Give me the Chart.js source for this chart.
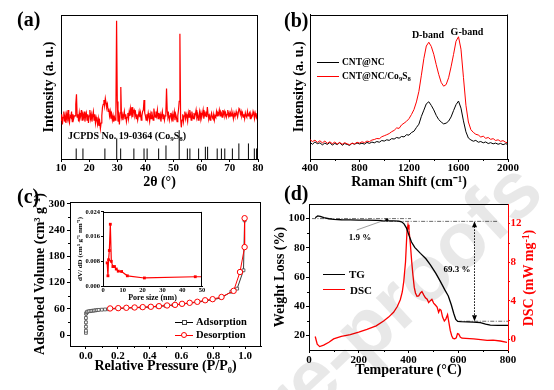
<!DOCTYPE html>
<html>
<head>
<meta charset="utf-8">
<script src="https://cdn.jsdelivr.net/npm/chart.js@4.4.1/dist/chart.umd.min.js"></script>
<style>
  html, body { margin: 0; padding: 0; background: #fff; }
  #page { position: relative; width: 554px; height: 390px; overflow: hidden;
          font-family: "Liberation Serif", "Times New Roman", serif; font-weight: bold; color: #000; }
  canvas { position: absolute; }
  .t { position: absolute; white-space: nowrap; line-height: 1; }
  .t sub { font-size: 70%; vertical-align: -0.3em; line-height: 0; }
  .t sup { font-size: 70%; vertical-align: 0.45em; line-height: 0; }
  .ln { position: absolute; height: 0; }
  .mk { position: absolute; box-sizing: border-box; background: #fff; }
  #wm { position: absolute; right: -6px; bottom: 180px; transform-origin: 100% 100%;
        transform: rotate(-43deg); font: bold 80px "Liberation Sans", Arial, sans-serif;
        color: rgba(0, 0, 0, 0.09); white-space: nowrap; pointer-events: none; z-index: 5; }
</style>
</head>
<body>
<div id="page">
  <canvas id="ca" width="277" height="192" style="left:0;top:0"></canvas>
  <canvas id="cb" width="277" height="192" style="left:277px;top:0"></canvas>
  <canvas id="cc" width="266" height="198" style="left:0;top:192px"></canvas>
  <canvas id="ci" width="135" height="104" style="left:72px;top:207px"></canvas>
  <canvas id="cd" width="288" height="198" style="left:266px;top:192px"></canvas>
  <div id="wm">Journal Pre-proofs</div>
</div>
<script>
// (a) XRD pattern, 10-80 deg every 0.25 deg
const xrdStart = 10;
const xrdStep = 0.25;
const xrdIntensity = [
  27,31,24,29, 33,26,30,25, 31,28,34,27, 25,30,29,33, 26,31,28,30,
  30,38,45,29, 31,26,32,28, 30,34,27,31, 29,33,26,30, 32,27,31,25,
  30,34,28,31, 26,30,33,27, 31,25,29,27, 24,28,23,26, 21,25,30,36,
  38,41,37,42, 39,36,38,33, 35,30,33,28, 31,27,30,26, 29,27,32,96,
  40,26,30,24, 32,50,29,31, 27,30,33,28, 31,26,29,32, 28,33,30,35,
  31,36,29,33, 34,30,32,28, 31,27,30,33, 29,32,27,30, 33,34,41,32,
  30,27,31,28, 32,29,26,31, 28,33,30,27, 35,31,29,33, 30,34,28,32,
  29,31,26,30, 33,28,31,27, 30,32,49,33, 29,31,27,30, 32,28,31,26,
  30,33,27,31, 29,26,30,34, 40,87,28,22, 27,31,26,30, 33,28,31,29,
  26,32,29,34, 31,27,33,30, 28,32,29,31, 34,29,31,27, 30,33,28,32,
  29,31,34,28, 32,30,33,29, 36,31,28,30, 27,30,32,29, 28,31,27,30,
  29,33,30,32, 31,34,30,33, 32,29,34,31, 33,30,32,29, 31,34,30,32,
  29,32,30,33, 31,28,32,30, 30,33,31,29, 32,35,34,31, 33,30,32,29,
  31,28,32,30, 29,33,30,31, 32,28,31,29, 30,33,31,28, 32,30,29,31,
  30
];
// JCPDS No. 19-0364 reference lines
const jcpdsPos = [15.4, 17.8, 25.6, 29.8, 31.2, 35.9, 39.5, 40.6, 44.7, 47.3, 52.0, 54.9,
                  55.8, 58.9, 61.3, 62.1, 65.5, 67.0, 68.2, 70.9, 73.2, 76.6, 78.7, 79.5];
const jcpdsHeight = [7.3, 7.3, 7.3, 14.3, 7.3, 7.3, 7.3, 7.3, 7.3, 9.4, 20, 7.3,
                     7.3, 7.3, 8.5, 8.5, 7.3, 7.3, 7.3, 7.3, 10.8, 10.8, 7.3, 7.3];
const xrdTicks = [10, 20, 30, 40, 50, 60, 70, 80];

// (b) Raman, 400-2000 cm-1 every 20
const ramanStart = 400;
const ramanStep = 20;
const ramanCNT = [
  11.5, 10.2, 11.8, 10.6, 11.2, 9.8, 11.0, 10.1, 11.4, 9.6,
  10.8, 10.0, 11.3, 9.5, 10.7, 10.1, 9.4, 10.9, 10.2, 11.1,
  10.4, 10.9, 10.3, 11.5, 10.8, 11.7, 11.2, 12.1, 11.6, 12.8,
  12.4, 13.3, 12.9, 14.1, 13.8, 14.9, 14.4, 15.6, 15.3, 16.8,
  16.5, 18.3, 19.2, 21.8, 24.1, 29.5, 33.8, 38.2, 39.6, 37.1,
  34.0, 30.2, 27.3, 25.6, 24.3, 24.8, 26.2, 29.1, 33.5, 37.6,
  40.1, 35.2, 26.4, 18.8, 14.5, 13.2, 12.3, 12.9, 11.6, 12.1,
  11.2, 11.8, 10.7, 11.3, 10.5, 11.0, 10.2, 10.8, 9.9, 10.6,
  10.1
];
const ramanCNTCo = [
  13.4, 12.1, 13.0, 11.5, 12.6, 11.2, 12.4, 10.8, 11.9, 10.6,
  11.7, 10.4, 11.5, 10.2, 11.3, 10.5, 9.9, 11.0, 10.4, 11.6,
  11.0, 11.9, 11.3, 12.4, 12.0, 13.1, 13.5, 14.2, 14.0, 15.4,
  16.1, 16.8, 17.6, 18.9, 19.8, 21.5, 21.2, 23.6, 24.8, 26.1,
  27.9, 30.8, 34.2, 39.5, 46.8, 58.0, 69.5, 78.2, 80.8, 77.9,
  72.5, 65.3, 58.6, 53.0, 50.4, 51.5, 56.2, 63.8, 72.4, 81.5,
  84.6, 76.0, 56.5, 37.2, 25.6, 20.3, 18.4, 17.1, 16.6, 15.2,
  15.8, 14.3, 14.9, 13.6, 14.1, 12.8, 13.3, 12.2, 12.7, 11.6,
  11.1
];
const ramanTicks = [400, 800, 1200, 1600, 2000];
const ramanMinor = [600, 1000, 1400, 1800];

// (c) N2 isotherm
const adsP = [0.0, 0.0, 0.0, 0.0, 0.0, 0.001, 0.005, 0.01, 0.02, 0.03, 0.04, 0.05, 0.06, 0.07,
              0.08, 0.1, 0.12, 0.14, 0.2, 0.25, 0.3, 0.35, 0.4, 0.45, 0.5, 0.55, 0.6, 0.65,
              0.7, 0.75, 0.8, 0.85, 0.914, 0.95, 0.99, 0.997];
const adsV = [5, 10, 19, 29, 39, 49, 52, 53.5, 54.5, 55, 55.5, 56, 56.5, 57,
              57.5, 58, 58.5, 59, 60.5, 61.5, 62.3, 63, 64, 65.3, 66.8, 68.5, 70.5, 72.8,
              75, 77.8, 81, 85, 99, 106, 148, 262];
const desP = [0.997, 0.997, 0.968, 0.928, 0.852, 0.796, 0.749, 0.700, 0.652, 0.604, 0.56,
              0.510, 0.459, 0.408, 0.357, 0.306, 0.254, 0.203, 0.152];
const desV = [267, 201, 144, 101, 87, 82, 79.5, 76, 73.7, 71.4, 69,
              67.6, 66, 64.6, 63.8, 63, 62.3, 61.5, 60.8];
const isoTicksX = [0, 0.2, 0.4, 0.6, 0.8, 1.0];
const isoMinorX = [0.1, 0.3, 0.5, 0.7, 0.9];
const isoTicksY = [0, 60, 120, 180, 240, 300];
const isoMinorY = [30, 90, 150, 210, 270];

// (c) inset pore size distribution
const poreSize = [2.1, 2.5, 2.8, 3.2, 3.7, 4.2, 5.0, 5.8, 6.7, 7.7, 9.4, 12.3, 20.9, 46.6];
const poreDV = [0.0075, 0.0033, 0.0085, 0.0115, 0.0200, 0.0080, 0.0063, 0.0063, 0.0055,
                0.0048, 0.0047, 0.0033, 0.0026, 0.0030];
const poreTicksX = [0, 10, 20, 30, 40, 50];
const poreTicksY = [0, 0.008, 0.016, 0.024];

// (d) TG / DSC
const tgT = [25, 35, 45, 60, 80, 100, 130, 166, 200, 233, 270, 300, 340, 360, 372, 382, 392, 402,
             412, 425, 448, 470, 488, 510, 528, 545, 560, 572, 582, 590, 598, 610, 635, 660, 689,
             710, 729, 760, 800];
const tgW = [100.6, 101.8, 101.5, 100.6, 99.9, 99.5, 99.2, 99.1, 99.0, 98.9, 98.8, 98.6, 98.5, 98.3,
             97.8, 96.4, 93.5, 88.5, 84.0, 80.3, 76.2, 72.5, 68.3, 62.5, 57.0, 51.5, 47.0, 41.0,
             35.0, 31.0, 29.6, 29.4, 29.3, 29.1, 28.7, 27.8, 27.1, 26.9, 26.8];
const dscT = [25, 33, 43, 59, 80, 99, 130, 166, 200, 233, 270, 300, 320, 340, 355, 367, 375, 381,
              388, 394, 398, 402, 407, 413, 418, 423, 428, 434, 441, 448, 454, 461, 468, 475, 481,
              488, 494, 501, 508, 515, 521, 526, 531, 537, 544, 550, 557, 562, 568, 574, 579, 586,
              592, 597, 602, 608, 615, 630, 662, 690, 716, 740, 769, 796];
const dscV = [0.3, -0.5, -0.75, -0.6, -0.3, 0.05, 0.3, 0.5, 0.75, 1.03, 1.4, 1.89, 2.3, 2.8, 3.4,
              4.1, 4.9, 6.0, 8.0, 11.2, 11.85, 11.3, 10.0, 8.0, 6.6, 5.4, 4.8, 4.45, 4.5, 4.8, 4.95,
              4.6, 4.3, 4.15, 3.8, 4.0, 4.15, 3.75, 3.55, 3.35, 2.8, 3.1, 3.0, 2.3, 1.9, 2.1, 2.55,
              1.8, 0.9, 0.35, 0.1, 0.05, 0.15, 0.6, 0.55, 0.25, 0.12, 0.1, 0.05, -0.02, -0.1, -0.08,
              -0.17, -0.3];
const tgRefLevel = [100, 98.1, 29.7];
const tgRefFrom = [12, 290, 600];
const tgRefTo = [410, 756, 800];
const tgTicksX = [0, 200, 400, 600, 800];
const tgMinorX = [100, 300, 500, 700];
const tgTicksY = [20, 40, 60, 80, 100];
const tgMinorY = [30, 50, 70, 90];
const dscTicks = [0, 4, 8, 12];
const dscMinor = [2, 6, 10];

Chart.defaults.font.family = '"Liberation Serif", "Times New Roman", serif';
Chart.defaults.font.weight = 'bold';
Chart.defaults.color = '#000';
Chart.defaults.animation = false;
Chart.defaults.plugins.legend.display = false;
Chart.defaults.plugins.tooltip.enabled = false;

const pts = (xs, ys) => xs.map((x, i) => ({ x: x, y: ys[i] }));
const setTicks = list => s => { s.ticks = list.map(v => ({ value: v })); };

// top/right frame plus small minor ticks
const frame = {
  id: 'frame',
  afterDraw(chart, args, o) {
    const { ctx, chartArea: a } = chart;
    ctx.save();
    ctx.lineWidth = 1;
    ctx.strokeStyle = '#000';
    const top = Math.round(a.top) + 0.5;
    ctx.beginPath();
    ctx.moveTo(a.left, top);
    ctx.lineTo(a.right, top);
    ctx.stroke();
    if (!o.noRight) {
      const r = Math.round(a.right) - 0.5;
      ctx.beginPath();
      ctx.moveTo(r, a.top);
      ctx.lineTo(r, a.bottom);
      ctx.stroke();
    }
    (o.minor || []).forEach(m => {
      const s = chart.scales[m.id];
      ctx.strokeStyle = m.color || '#000';
      m.values.forEach(v => {
        const p = Math.round(s.getPixelForValue(v)) + 0.5;
        ctx.beginPath();
        if (s.isHorizontal()) {
          ctx.moveTo(p, a.bottom); ctx.lineTo(p, a.bottom + 2);
        } else if (s.position === 'left') {
          ctx.moveTo(a.left - 2, p); ctx.lineTo(a.left, p);
        } else {
          ctx.moveTo(a.right, p); ctx.lineTo(a.right + 2, p);
        }
        ctx.stroke();
      });
    });
    ctx.restore();
  }
};

// arrows and leader line in (d)
const tgMarks = {
  id: 'tgMarks',
  afterDatasetsDraw(chart, args, o) {
    const { ctx } = chart;
    const x = chart.scales.x, y = chart.scales.y;
    ctx.save();
    const px = Math.round(x.getPixelForValue(o.arrowAt)) + 0.5;
    const t = y.getPixelForValue(o.arrowFrom), b = y.getPixelForValue(o.arrowTo);
    ctx.strokeStyle = '#000';
    ctx.fillStyle = '#000';
    ctx.lineWidth = 1;
    ctx.setLineDash([1.5, 1.5]);
    ctx.beginPath(); ctx.moveTo(px, t + 5); ctx.lineTo(px, b - 5); ctx.stroke();
    ctx.setLineDash([]);
    ctx.beginPath(); ctx.moveTo(px, t); ctx.lineTo(px - 2.5, t + 6); ctx.lineTo(px + 2.5, t + 6); ctx.fill();
    ctx.beginPath(); ctx.moveTo(px, b); ctx.lineTo(px - 2.5, b - 6); ctx.lineTo(px + 2.5, b - 6); ctx.fill();
    // 1.9 % step
    const sx = x.getPixelForValue(o.stepAt);
    ctx.fillRect(sx - 1.5, y.getPixelForValue(o.stepFrom), 3, y.getPixelForValue(o.stepTo) - y.getPixelForValue(o.stepFrom));
    ctx.strokeStyle = '#777';
    ctx.lineWidth = 0.7;
    ctx.beginPath();
    ctx.moveTo(x.getPixelForValue(o.leader[0][0]), y.getPixelForValue(o.leader[0][1]));
    ctx.lineTo(x.getPixelForValue(o.leader[1][0]), y.getPixelForValue(o.leader[1][1]));
    ctx.stroke();
    ctx.restore();
  }
};

// (a)
const jcpdsLines = [];
jcpdsPos.forEach((p, i) => {
  jcpdsLines.push({ x: p, y: 0 }, { x: p, y: jcpdsHeight[i] }, { x: p, y: null });
});
new Chart(document.getElementById('ca'), {
  type: 'line',
  data: {
    datasets: [
      { data: xrdIntensity.map((v, i) => ({ x: xrdStart + i * xrdStep, y: v })),
        borderColor: '#ff0000', borderWidth: 1.2, pointRadius: 0 },
      { data: jcpdsLines, borderColor: '#000', borderWidth: 1, pointRadius: 0, spanGaps: false }
    ]
  },
  options: {
    responsive: false,
    layout: { padding: { left: 0, top: 15, right: 19, bottom: 0 } },
    scales: {
      x: {
        type: 'linear', min: 10, max: 80,
        afterBuildTicks: setTicks(xrdTicks),
        afterFit: s => { s.height = 33; },
        ticks: { font: { size: 11 }, padding: 0, maxRotation: 0, autoSkip: false, callback: v => String(v) },
        grid: { drawOnChartArea: false, tickLength: 3, color: '#000' },
        border: { color: '#000' },
        title: { display: true, text: '2θ (°)', font: { size: 14 }, padding: { top: 0, bottom: 1.6 } }
      },
      y: {
        min: 0, max: 100,
        afterFit: s => { s.width = 61; },
        ticks: { display: false },
        grid: { display: false, drawTicks: false },
        border: { color: '#000' },
        title: { display: true, text: 'Intensity (a. u.)', font: { size: 14 }, padding: { top: 40.6, bottom: 0 } }
      }
    },
    plugins: { frame: {} }
  },
  plugins: [frame]
});

// (b)
new Chart(document.getElementById('cb'), {
  type: 'line',
  data: {
    datasets: [
      { data: ramanCNTCo.map((v, i) => ({ x: ramanStart + i * ramanStep, y: v })),
        borderColor: '#ff0000', borderWidth: 1, pointRadius: 0 },
      { data: ramanCNT.map((v, i) => ({ x: ramanStart + i * ramanStep, y: v })),
        borderColor: '#000', borderWidth: 1, pointRadius: 0 }
    ]
  },
  options: {
    responsive: false,
    layout: { padding: { left: 0, top: 14.5, right: 46, bottom: 0 } },
    scales: {
      x: {
        type: 'linear', min: 400, max: 2000,
        afterBuildTicks: setTicks(ramanTicks),
        afterFit: s => { s.height = 33; },
        ticks: { font: { size: 11 }, padding: 0, maxRotation: 0, autoSkip: false, callback: v => String(v) },
        grid: { drawOnChartArea: false, tickLength: 3, color: '#000' },
        border: { color: '#000' },
        title: { display: true, text: 'Raman Shift (cm⁻¹)', font: { size: 14 }, padding: { top: 0, bottom: 1.6 } }
      },
      y: {
        min: 0, max: 100,
        afterFit: s => { s.width = 33; },
        ticks: { display: false },
        grid: { display: false, drawTicks: false },
        border: { color: '#000' },
        title: { display: true, text: 'Intensity (a. u.)', font: { size: 14 }, padding: { top: 13.6, bottom: 0 } }
      }
    },
    plugins: { frame: { minor: [{ id: 'x', values: ramanMinor }] } }
  },
  plugins: [frame]
});

// (c)
new Chart(document.getElementById('cc'), {
  type: 'line',
  data: {
    datasets: [
      { data: pts(desP, desV), borderColor: '#ff0000', borderWidth: 1,
        pointStyle: 'circle', pointRadius: 2.7, pointBorderWidth: 1,
        pointBorderColor: '#ff0000', pointBackgroundColor: '#fff' },
      { data: pts(adsP, adsV), borderColor: '#222', borderWidth: 0.9,
        pointStyle: 'rect', pointRadius: 2, pointBorderWidth: 0.8,
        pointBorderColor: '#444', pointBackgroundColor: '#fff' }
    ]
  },
  options: {
    responsive: false,
    layout: { padding: { left: 0, top: 10, right: 3, bottom: 0 } },
    scales: {
      x: {
        type: 'linear', min: -0.1, max: 1.1,
        afterBuildTicks: setTicks(isoTicksX),
        afterFit: s => { s.height = 44; },
        ticks: { font: { size: 11 }, padding: 1, maxRotation: 0, autoSkip: false, callback: v => v.toFixed(1) },
        grid: { drawOnChartArea: false, tickLength: 3, color: '#000' },
        border: { color: '#000' },
        title: { display: true, text: 'Relative Pressure (P/P₀)', font: { size: 14 }, padding: { top: 0, bottom: 15.1 } }
      },
      y: {
        min: -25, max: 304,
        afterBuildTicks: setTicks(isoTicksY),
        afterFit: s => { s.width = 70; },
        ticks: { font: { size: 11 }, padding: 2, callback: v => String(v) },
        grid: { drawOnChartArea: false, tickLength: 3, color: '#000' },
        border: { color: '#000' },
        title: { display: true, text: 'Adsorbed Volume (cm³ g⁻¹)', font: { size: 14 }, padding: { top: 31.6, bottom: 0 } }
      }
    },
    plugins: { frame: { minor: [{ id: 'x', values: isoMinorX }, { id: 'y', values: isoMinorY }] } }
  },
  plugins: [frame]
});

// (c) inset
new Chart(document.getElementById('ci'), {
  type: 'line',
  data: {
    datasets: [
      { data: pts(poreSize, poreDV).concat([{ x: 50, y: 0.0030 }]), borderColor: '#ff0000', borderWidth: 1.2,
        pointStyle: 'rect', pointRadius: (c) => (c.raw && c.raw.x === 50 ? 0 : 2),
        pointBorderWidth: 0, pointBackgroundColor: '#ff0000' }
    ]
  },
  options: {
    responsive: false,
    layout: { padding: { left: 0, top: 4, right: 5, bottom: 0 } },
    scales: {
      x: {
        type: 'linear', min: 0, max: 50,
        afterBuildTicks: setTicks(poreTicksX),
        afterFit: s => { s.height = 25; },
        ticks: { font: { size: 6.5 }, padding: 0.5, maxRotation: 0, autoSkip: false, callback: v => String(v) },
        grid: { display: false, drawTicks: false },
        border: { color: '#000' },
        title: { display: true, text: 'Pore size (nm)', font: { size: 8 }, padding: { top: 0, bottom: 8.2 } }
      },
      y: {
        min: 0, max: 0.024,
        afterBuildTicks: setTicks(poreTicksY),
        afterFit: s => { s.width = 31; },
        ticks: { font: { size: 6.5 }, padding: 1, callback: v => v.toFixed(3) },
        grid: { drawOnChartArea: false, tickLength: 2, color: '#000' },
        border: { color: '#000' },
        title: { display: true, text: 'dV/ dD (cm³ g⁻¹ nm⁻¹)', font: { size: 7 }, padding: { top: 3.8, bottom: 0 } }
      }
    },
    plugins: { frame: {} }
  },
  plugins: [frame]
});

// (d)
const refSets = tgRefLevel.map((lv, i) => ({
  data: [{ x: tgRefFrom[i], y: lv }, { x: tgRefTo[i], y: lv }],
  yAxisID: 'y', borderColor: '#444', borderWidth: 0.8, borderDash: [4, 1.5, 1, 1.5], pointRadius: 0
}));
new Chart(document.getElementById('cd'), {
  type: 'line',
  data: {
    datasets: [
      { data: pts(tgT, tgW), yAxisID: 'y', borderColor: '#000', borderWidth: 1.3, pointRadius: 0 },
      { data: pts(dscT, dscV), yAxisID: 'y2', borderColor: '#ff0000', borderWidth: 1.3, pointRadius: 0 }
    ].concat(refSets)
  },
  options: {
    responsive: false,
    layout: { padding: { left: 0, top: 12, right: 0, bottom: 0 } },
    scales: {
      x: {
        type: 'linear', min: 0, max: 800,
        afterBuildTicks: setTicks(tgTicksX),
        afterFit: s => { s.height = 40; },
        ticks: { font: { size: 11 }, padding: 0.5, maxRotation: 0, autoSkip: false, callback: v => String(v) },
        grid: { drawOnChartArea: false, tickLength: 3, color: '#000' },
        border: { color: '#000' },
        title: { display: true, text: 'Temperature (°C)', font: { size: 14 }, padding: { top: 0, bottom: 11.6 } }
      },
      y: {
        position: 'left', min: 10, max: 110,
        afterBuildTicks: setTicks(tgTicksY),
        afterFit: s => { s.width = 43; },
        ticks: { font: { size: 11 }, padding: 1, callback: v => String(v) },
        grid: { drawOnChartArea: false, tickLength: 3, color: '#000' },
        border: { color: '#000' },
        title: { display: true, text: 'Weight Loss (%)', font: { size: 14 }, padding: { top: 5.6, bottom: 0 } }
      },
      y2: {
        position: 'right', min: -1.1, max: 14,
        afterBuildTicks: setTicks(dscTicks),
        afterFit: s => { s.width = 46; },
        ticks: { font: { size: 11 }, padding: 0.5, color: '#ff0000', callback: v => String(v) },
        grid: { drawOnChartArea: false, tickLength: 2, color: '#ff0000' },
        border: { color: '#ff0000' }
      }
    },
    plugins: {
      frame: { noRight: true, minor: [{ id: 'x', values: tgMinorX }, { id: 'y', values: tgMinorY },
                                       { id: 'y2', values: dscMinor, color: '#ff0000' }] },
      tgMarks: { arrowAt: 663, arrowFrom: 98.1, arrowTo: 29.7, stepAt: 313, stepFrom: 100, stepTo: 98.1,
                 leader: [[192, 92.2], [305, 99.0]] }
    }
  },
  plugins: [frame, tgMarks]
});

// text overlays
const page = document.getElementById('page');
function addText(html, x, cy, size, align, color) {
  const d = document.createElement('div');
  d.className = 't';
  d.innerHTML = html;
  d.style.fontSize = size + 'px';
  d.style.top = (cy - size / 2) + 'px';
  d.style.left = x + 'px';
  if (align === 'center') d.style.transform = 'translateX(-50%)';
  if (color) d.style.color = color;
  page.appendChild(d);
  return d;
}
function addLine(x, y, w, color, width) {
  const d = document.createElement('div');
  d.className = 'ln';
  d.style.left = x + 'px';
  d.style.top = (y - width / 2) + 'px';
  d.style.width = w + 'px';
  d.style.borderTop = width + 'px solid ' + color;
  page.appendChild(d);
}
function addMarker(cx, cy, size, color, round) {
  const d = document.createElement('div');
  d.className = 'mk';
  d.style.left = (cx - size / 2) + 'px';
  d.style.top = (cy - size / 2) + 'px';
  d.style.width = size + 'px';
  d.style.height = size + 'px';
  d.style.border = '1px solid ' + color;
  if (round) d.style.borderRadius = '50%';
  page.appendChild(d);
}

addText('(a)', 17, 18.5, 20);
addText('(b)', 284, 19.5, 20);
addText('(c)', 17, 196, 20);
addText('(d)', 284, 193, 20);

addText('JCPDS No. 19-0364 (Co<sub>9</sub>S<sub>8</sub>)', 68, 135.5, 10);

addText('D-band', 428, 35, 10, 'center');
addText('G-band', 467, 31.5, 10, 'center');
addLine(317, 62.5, 22, '#000', 1.2);
addText('CNT@NC', 342, 62.5, 9.5);
addLine(317, 76.5, 22, '#ff0000', 1.2);
addText('CNT@NC/Co<sub>9</sub>S<sub>8</sub>', 342, 76.5, 9.5);

addLine(175, 322, 18, '#000', 1);
addMarker(184, 322, 5, '#444', false);
addText('Adsorption', 196, 322, 10.5);
addLine(175, 335, 18, '#ff0000', 1);
addMarker(184, 335, 6, '#ff0000', true);
addText('Desorption', 196, 335, 10.5);

addLine(323, 274.5, 22, '#000', 1.3);
addText('TG', 349, 274.5, 11);
addLine(323, 290, 22, '#ff0000', 1.3);
addText('DSC', 350, 290.5, 11);
addText('1.9 %', 360, 237, 9, 'center');
addText('69.3 %', 457, 269, 9, 'center');

const dscTitle = addText('DSC (mW mg<sup>-1</sup>)', 529, 278, 14, null, '#ff0000');
dscTitle.style.top = '278px';
dscTitle.style.transform = 'translate(-50%, -50%) rotate(-90deg)';
</script>
</body>
</html>
